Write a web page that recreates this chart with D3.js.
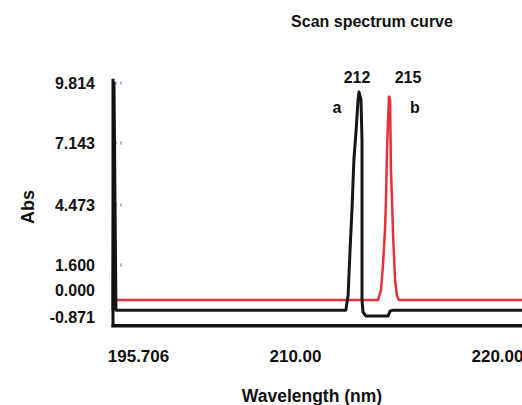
<!DOCTYPE html>
<html lang="en">
<head>
<meta charset="UTF-8">
<title>Scan spectrum curve</title>
<script src="https://d3js.org/d3.v7.min.js"></script>
<style>
    body { margin: 0; background: #fff; }
    text { font-family: "Liberation Sans", Arial, sans-serif; font-weight: bold; fill: #111; }
</style>
</head>
<body>
<script>
    // tick values and labels as printed on the original scan
    var yTicks = [9.814, 7.143, 4.473, 1.600, 0.000, -0.871];
    var yLabels = ["9.814", "7.143", "4.473", "1.600", "0.000", "-0.871"];
    var xTicks = [195.706, 210, 220];
    var xLabels = ["195.706", "210.00", "220.00"];

    // curve a (black) and b (red): [wavelength, abs]
    var curveA = [
        [193.43, -0.65], [193.52, 9.814], [193.70, -0.65], [211.59, -0.65],
        [211.66, -0.16], [211.72, 2.32], [211.78, 4.23], [211.84, 6.41],
        [211.91, 7.72], [211.97, 9.06], [212.0, 9.41], [212.2, 9.06],
        [212.3, 7.28], [212.3, -0.32], [212.4, -0.71], [212.7, -0.84],
        [214.9, -0.84], [215.05, -0.68], [215.19, -0.65], [221.16, -0.65]
    ];
    var curveB = [
        [193.34, -0.32], [213.9, -0.32], [214.2, 0.0], [214.4, 1.6],
        [214.6, 3.28], [214.7, 4.69], [214.8, 6.84], [215.0, 9.24],
        [215.05, 9.06], [215.09, 5.98], [215.14, 4.69], [215.19, 3.0],
        [215.28, 0.64], [215.37, -0.19], [215.46, -0.32], [221.16, -0.32]
    ];
    var peaks = [
        {label: "212", name: "a", x: 212, dx: 0, ndx: -22},
        {label: "215", name: "b", x: 215, dx: 21, ndx: 26}
    ];

    var width = 522, height = 405;

    var svg = d3.select("body").append("svg")
        .attr("width", width)
        .attr("height", height);

    // the scanned axes are not evenly spaced, so the scales are piecewise
    var x = d3.scaleLinear()
        .domain([195.706, 210, 212, 215, 220])
        .range([138, 295, 359, 389, 497]);

    var y = d3.scaleLinear()
        .domain([-0.871, 0, 1.6, 4.473, 7.143, 9.814])
        .range([317, 290, 265, 205, 143, 83]);

    var x0 = 113, yBottom = y(-1.15);

    // y axis labels
    svg.append("g")
        .attr("transform", "translate(" + x0 + ",0)")
        .call(d3.axisLeft(y).tickValues(yTicks).tickSize(0).tickPadding(18)
            .tickFormat(function(d, i){ return yLabels[i]; }))
        .call(function(g){ g.select(".domain").remove(); })
        .selectAll("text")
        .style("font-size", "16px")
        .attr("fill", "#111");

    // faint tick marks
    svg.selectAll(".ymark")
        .data(yTicks.slice(0, 4)).enter()
        .append("line")
        .attr("x1", x0 + 2).attr("x2", x0 + 11)
        .attr("y1", function(d){ return y(d); })
        .attr("y2", function(d){ return y(d); })
        .attr("stroke", "#aab0dd")
        .attr("stroke-width", 3)
        .attr("stroke-dasharray", "2,3");

    // x axis labels
    svg.append("g")
        .attr("transform", "translate(0," + yBottom + ")")
        .call(d3.axisBottom(x).tickValues(xTicks).tickSize(0).tickPadding(24)
            .tickFormat(function(d, i){ return xLabels[i]; }))
        .call(function(g){ g.select(".domain").remove(); })
        .selectAll("text")
        .style("font-size", "17px")
        .attr("fill", "#111");

    var line = d3.line()
        .x(function(d){ return x(d[0]); })
        .y(function(d){ return y(d[1]); });

    svg.append("path")
        .datum(curveB)
        .attr("d", line)
        .attr("fill", "none")
        .attr("stroke", "#e8303c")
        .attr("stroke-width", 2.5);

    svg.append("path")
        .datum(curveA)
        .attr("d", line)
        .attr("fill", "none")
        .attr("stroke", "#161616")
        .attr("stroke-width", 3)
        .attr("stroke-linejoin", "round");

    // frame: left and bottom
    svg.append("line")
        .attr("x1", x0).attr("x2", x0)
        .attr("y1", y(10.0)).attr("y2", yBottom + 1.5)
        .attr("stroke", "#111").attr("stroke-width", 3);
    svg.append("line")
        .attr("x1", x0 - 1.5).attr("x2", width)
        .attr("y1", yBottom).attr("y2", yBottom)
        .attr("stroke", "#111").attr("stroke-width", 3.5);

    // peak annotations
    svg.selectAll(".peak")
        .data(peaks).enter()
        .append("text")
        .attr("x", function(d){ return x(d.x) + d.dx - 2; })
        .attr("y", 83)
        .attr("text-anchor", "middle")
        .style("font-size", "16px")
        .text(function(d){ return d.label; });

    svg.selectAll(".pname")
        .data(peaks).enter()
        .append("text")
        .attr("x", function(d){ return x(d.x) + d.ndx; })
        .attr("y", 113)
        .attr("text-anchor", "middle")
        .style("font-size", "16px")
        .text(function(d){ return d.name; });

    // titles
    svg.append("text")
        .attr("x", 372).attr("y", 27)
        .attr("text-anchor", "middle")
        .style("font-size", "16px")
        .text("Scan spectrum curve");

    svg.append("text")
        .attr("x", 312).attr("y", 402)
        .attr("text-anchor", "middle")
        .style("font-size", "17.5px")
        .text("Wavelength (nm)");

    svg.append("text")
        .attr("transform", "translate(34,207) rotate(-90)")
        .attr("text-anchor", "middle")
        .style("font-size", "18px")
        .text("Abs");
</script>
</body>
</html>
